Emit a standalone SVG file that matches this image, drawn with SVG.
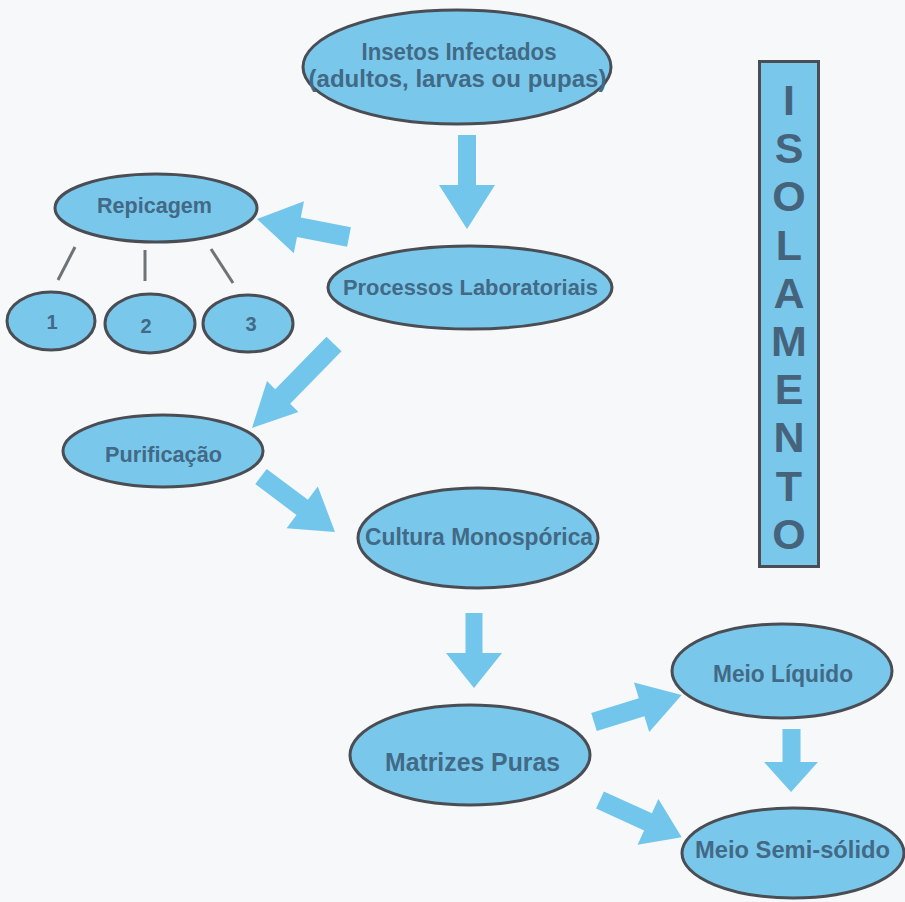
<svg xmlns="http://www.w3.org/2000/svg" width="905" height="902" viewBox="0 0 905 902">
<style>
.n ellipse{fill:#79c8eb;stroke:#4a4e54;stroke-width:3}
.t{font-family:"Liberation Sans",Arial,Helvetica,sans-serif;font-weight:bold;fill:#426985;text-anchor:middle}
.ar{fill:#72c6ec}
.ln{stroke:#6e7378;stroke-width:3;fill:none}
</style>
<rect x="0" y="0" width="905" height="902" fill="#f6f8fa"/>
<g id="connectors">
<polygon class="ar" points="458,135 458,185 439,185 467,229 495,185 476,185 476,135"/>
<polygon class="ar" points="350.9,227.3 300.8,217.5 304,201.2 257,219 293.8,253.2 297,236.9 347.1,246.7"/>
<polygon class="ar" points="326.5,336.7 275.2,389.2 267,381.1 252,428 298.4,411.9 290.2,403.8 341.5,351.3"/>
<polygon class="ar" points="255.3,484.1 296.5,515 286.6,528.2 335,532 317.8,486.6 307.9,499.8 266.7,468.9"/>
<polygon class="ar" points="465.5,613 465.5,653 446,653 474,688 502,653 482.5,653 482.5,613"/>
<polygon class="ar" points="596.8,731 644.4,716.3 649.2,732.1 681.7,695 634,682.5 638.8,698.3 591.2,713"/>
<polygon class="ar" points="596.1,808.6 644.1,830.5 637.6,844.7 681.7,837.3 658.4,799.1 651.9,813.3 603.9,791.4"/>
<polygon class="ar" points="782.5,729 782.5,762 764,762 791,792 818,762 800.5,762 800.5,729"/>
<line class="ln" x1="75" y1="247" x2="58" y2="280"/>
<line class="ln" x1="145" y1="250" x2="145" y2="281"/>
<line class="ln" x1="211" y1="249" x2="233" y2="283"/>
</g>
<g id="insetos" class="n">
<ellipse cx="457" cy="67" rx="154" ry="57"/>
<text class="t" x="459" y="60" font-size="24" textLength="195" lengthAdjust="spacingAndGlyphs">Insetos Infectados</text>
<text class="t" x="457.5" y="87" font-size="24" textLength="298" lengthAdjust="spacingAndGlyphs">(adultos, larvas ou pupas)</text>
</g>
<g id="repicagem" class="n">
<ellipse cx="156" cy="208" rx="101" ry="34"/>
<text class="t" x="154.5" y="213" font-size="22" textLength="115" lengthAdjust="spacingAndGlyphs">Repicagem</text>
</g>
<g id="r1" class="n">
<ellipse cx="51" cy="321" rx="44" ry="29"/>
<text class="t" x="52" y="329" font-size="20">1</text>
</g>
<g id="r2" class="n">
<ellipse cx="150" cy="323.5" rx="45" ry="29.5"/>
<text class="t" x="146" y="333" font-size="20">2</text>
</g>
<g id="r3" class="n">
<ellipse cx="248" cy="323.5" rx="45" ry="28.5"/>
<text class="t" x="251" y="331" font-size="20">3</text>
</g>
<g id="processos" class="n">
<ellipse cx="470" cy="287.5" rx="142" ry="41.5"/>
<text class="t" x="470.5" y="295" font-size="22.5" textLength="255" lengthAdjust="spacingAndGlyphs">Processos Laboratoriais</text>
</g>
<g id="purificacao" class="n">
<ellipse cx="163" cy="451" rx="100" ry="36"/>
<text class="t" x="163.5" y="462" font-size="22.5" textLength="117" lengthAdjust="spacingAndGlyphs">Purificação</text>
</g>
<g id="cultura" class="n">
<ellipse cx="478" cy="538" rx="120" ry="50"/>
<text class="t" x="479" y="545" font-size="24.5" textLength="228" lengthAdjust="spacingAndGlyphs">Cultura Monospórica</text>
</g>
<g id="matrizes" class="n">
<ellipse cx="470" cy="755" rx="120" ry="50"/>
<text class="t" x="472.5" y="771" font-size="25" textLength="175" lengthAdjust="spacingAndGlyphs">Matrizes Puras</text>
</g>
<g id="meio-liquido" class="n">
<ellipse cx="782" cy="671" rx="110" ry="47"/>
<text class="t" x="783" y="682" font-size="23.5" textLength="140" lengthAdjust="spacingAndGlyphs">Meio Líquido</text>
</g>
<g id="meio-semisolido" class="n">
<ellipse cx="793" cy="853" rx="111" ry="45"/>
<text class="t" x="792.5" y="858" font-size="24" textLength="195" lengthAdjust="spacingAndGlyphs">Meio Semi-sólido</text>
</g>
<g id="isolamento">
<rect x="759.5" y="61.5" width="59" height="505" fill="#79c8eb" stroke="#4a4e54" stroke-width="3"/>
<text class="t" font-size="43" style="fill:#46637c"><tspan x="789" y="115">I</tspan><tspan x="789" y="163.2">S</tspan><tspan x="789" y="211.4">O</tspan><tspan x="789" y="259.6">L</tspan><tspan x="789" y="307.8">A</tspan><tspan x="789" y="356">M</tspan><tspan x="789" y="404.2">E</tspan><tspan x="789" y="452.4">N</tspan><tspan x="789" y="500.6">T</tspan><tspan x="789" y="548.8">O</tspan></text>
</g>
</svg>
